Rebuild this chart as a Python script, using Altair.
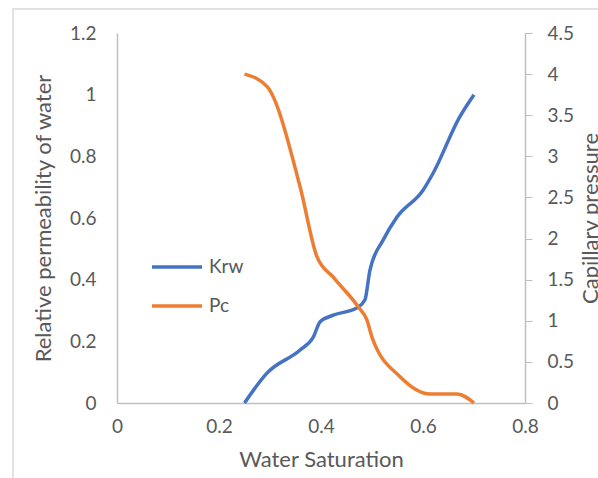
import altair as alt
import pandas as pd

# Data
krw_sw = [0.25, 0.294, 0.359, 0.385, 0.398, 0.424, 0.47, 0.486, 0.496, 0.522, 0.549, 0.6, 0.62, 0.672, 0.7]
krw_val = [0.0, 0.097, 0.172, 0.214, 0.263, 0.285, 0.308, 0.334, 0.431, 0.529, 0.603, 0.69, 0.746, 0.928, 1.0]

pc_sw = [0.25, 0.294, 0.359, 0.392, 0.424, 0.473, 0.49, 0.5, 0.555, 0.614, 0.667, 0.7]
pc_val = [4.0, 3.85, 2.63, 1.78, 1.53, 1.17, 1.01, 0.80, 0.32, 0.11, 0.11, 0.0]

series_names = ["Krw", "Pc"]
series_colors = ["#4472C4", "#ED7D31"]

x_ticks = [0, 0.2, 0.4, 0.6, 0.8]
left_ticks = [0, 0.2, 0.4, 0.6, 0.8, 1.0, 1.2]
right_ticks = [0, 0.5, 1, 1.5, 2, 2.5, 3, 3.5, 4, 4.5]

krw_df = pd.DataFrame({"Sw": krw_sw, "val": krw_val, "series": "Krw"})
pc_df = pd.DataFrame({"Sw": pc_sw, "val": pc_val, "series": "Pc"})

FONT = "Lato"
LABEL_COLOR = "#595959"
AXIS_COLOR = "#bfbfbf"

color = alt.Color(
    "series:N",
    scale=alt.Scale(domain=series_names, range=series_colors),
    legend=alt.Legend(
        title=None,
        orient="none",
        legendX=33,
        legendY=207,
        symbolType="stroke",
        symbolSize=2500,
        symbolStrokeWidth=3.5,
        labelFontSize=19,
        labelFont=FONT,
        labelColor=LABEL_COLOR,
        labelOffset=5,
        rowPadding=2,
    ),
)

x_enc = alt.X(
    "Sw:Q",
    scale=alt.Scale(domain=[0, 0.8], nice=False),
    axis=alt.Axis(
        title="Water Saturation",
        values=x_ticks,
        format="~g",
        labelFlush=False,
        labelBound=False,
        ticks=False,
        grid=False,
        domainColor=AXIS_COLOR,
        labelPadding=14,
        titlePadding=13,
    ),
)

border = alt.Chart(pd.DataFrame({"a": [0]})).mark_rect(
    fill=None, stroke="#d9d9d9", strokeWidth=1.5, clip=False
).encode(
    x=alt.value(-104), x2=alt.value(600), y=alt.value(-24), y2=alt.value(520)
)

krw_line = alt.Chart(krw_df).mark_line(
    interpolate="monotone", strokeWidth=3.5
).encode(
    x=x_enc,
    y=alt.Y(
        "val:Q",
        scale=alt.Scale(domain=[0, 1.2], nice=False),
        axis=alt.Axis(
            title="Relative permeability of water",
            orient="left",
            values=left_ticks,
            format="~g",
            ticks=False,
            grid=False,
            domainColor=AXIS_COLOR,
            labelPadding=21,
            titlePadding=14,
        ),
    ),
    color=color,
)

pc_line = alt.Chart(pc_df).mark_line(
    interpolate="monotone", strokeWidth=3.5
).encode(
    x=x_enc,
    y=alt.Y(
        "val:Q",
        scale=alt.Scale(domain=[0, 4.5], nice=False),
        axis=alt.Axis(
            title="Capillary pressure",
            orient="right",
            titleAngle=270,
            values=right_ticks,
            format="~g",
            ticks=True,
            tickSize=7,
            tickColor=AXIS_COLOR,
            grid=False,
            domainColor=AXIS_COLOR,
            labelPadding=15,
            titlePadding=29,
        ),
    ),
    color=color,
)

chart = (
    alt.layer(border, krw_line, pc_line)
    .resolve_scale(y="independent")
    .properties(
        width=408,
        height=370,
        autosize=alt.AutoSizeParams(type="none"),
        padding={"left": 117, "top": 33, "right": 73, "bottom": 75},
        background="white",
    )
    .configure_view(stroke=None)
    .configure_axis(
        labelFont=FONT,
        labelFontSize=19,
        labelColor=LABEL_COLOR,
        titleFont=FONT,
        titleFontSize=22,
        titleFontWeight="normal",
        titleColor=LABEL_COLOR,
        domainWidth=1.5,
    )
)

chart.save("out.html", embed_options={"renderer": "svg", "actions": False})
